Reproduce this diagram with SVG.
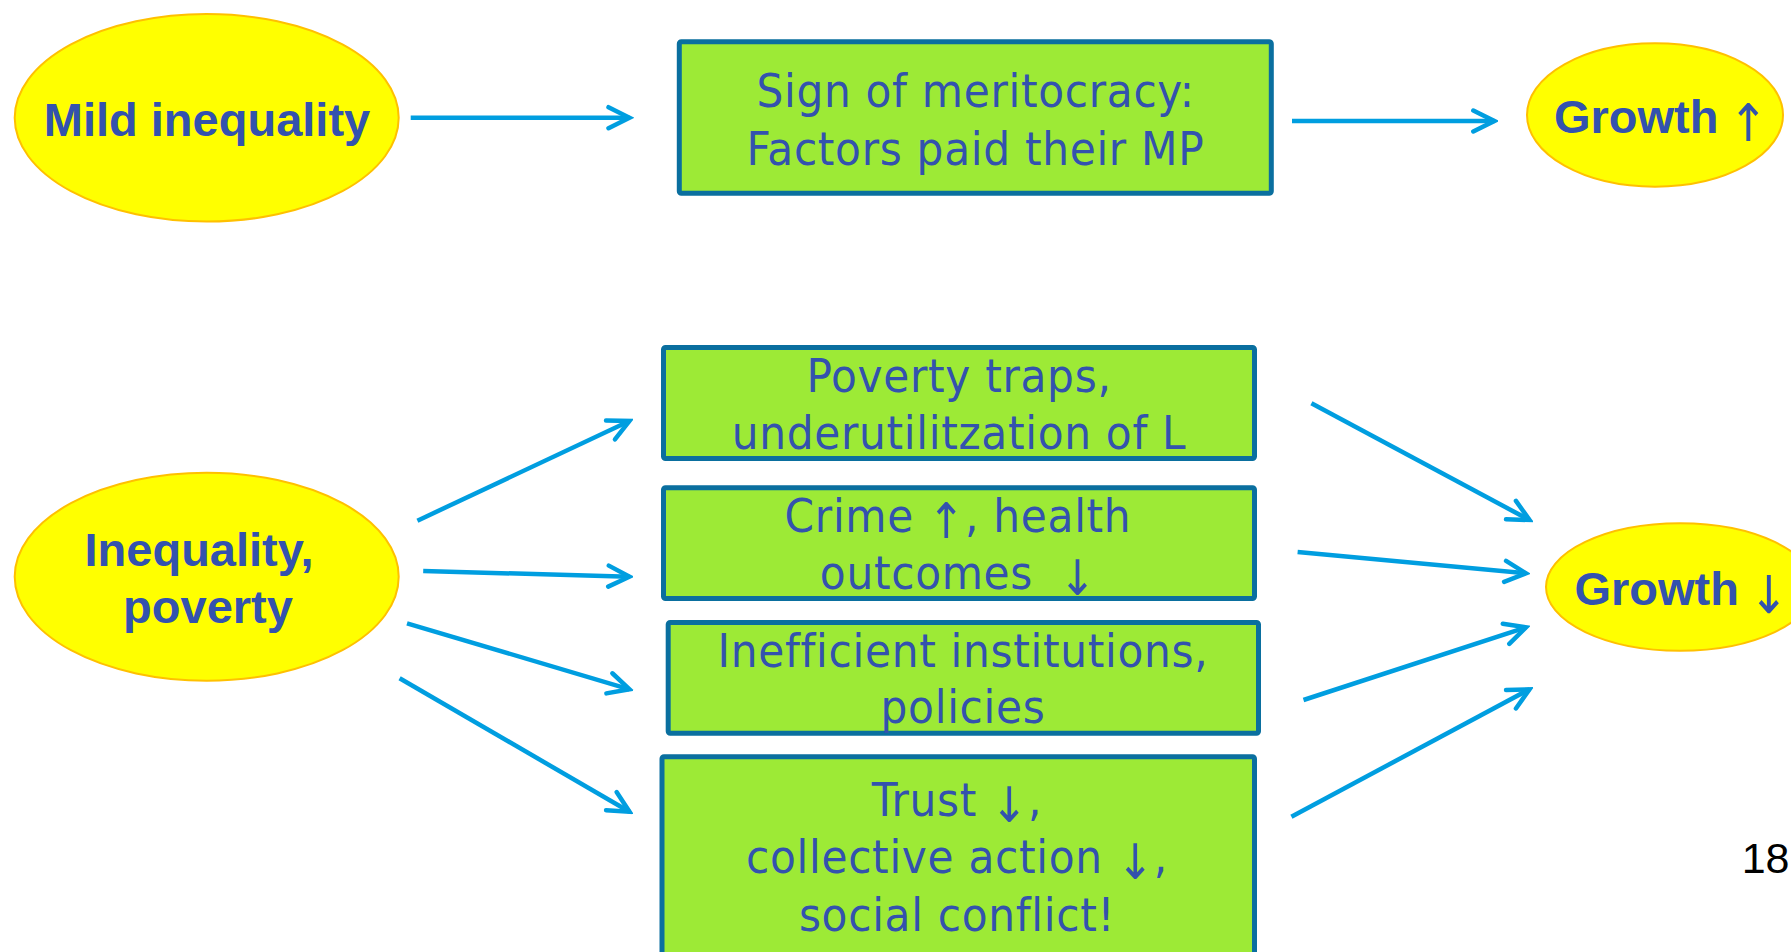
<svg xmlns="http://www.w3.org/2000/svg" width="1791" height="952" viewBox="0 0 1791 952">
  <defs>
    <style>
      .oval { fill: #FFFF00; stroke: #FFC000; stroke-width: 2; }
      .box { fill: #9DEA36; stroke: #0A6F9F; stroke-width: 5; }
      .bold { font-family: "Liberation Sans", Arial, sans-serif; font-weight: bold; font-size: 47px; fill: #3352AE; }
      .body { font-family: "DejaVu Sans Condensed", "DejaVu Sans", sans-serif; font-stretch: condensed; font-size: 47px; letter-spacing: 0.7px; fill: #3352AE; text-anchor: middle; }
      .arr { font-family: "DejaVu Sans Condensed", "DejaVu Sans", sans-serif; font-stretch: condensed; font-weight: normal; font-size: 49px; letter-spacing: 0; }
      .arr-big { font-family: "DejaVu Sans Condensed", "DejaVu Sans", sans-serif; font-stretch: condensed; font-weight: normal; font-size: 52px; }
      .conn line { stroke: #009EE0; stroke-width: 4.5; fill: none; marker-end: url(#head); }
      .pageno { font-family: "Liberation Sans", Arial, sans-serif; font-size: 43px; fill: #000000; }
    </style>
    <marker id="head" markerUnits="userSpaceOnUse" viewBox="-26 -15 30 30" markerWidth="30" markerHeight="30" refX="0" refY="0" orient="auto">
      <path d="M -21 -10.5 L 0 0 L -21 10.5" fill="none" stroke="#009EE0" stroke-width="4.5" stroke-linecap="round" stroke-linejoin="miter"/>
    </marker>
  </defs>

  <rect width="1791" height="952" fill="#FFFFFF"/>

  <!-- upper chain -->
  <g id="mild-inequality">
    <ellipse class="oval" cx="206.7" cy="117.8" rx="192" ry="103.8"/>
    <text class="bold" x="207" y="136" text-anchor="middle">Mild inequality</text>
  </g>

  <g id="meritocracy">
    <rect class="box" x="679.3" y="41.8" width="592" height="151.4" rx="2"/>
    <text class="body" x="975.5" y="107">Sign of meritocracy:</text>
    <text class="body" x="975.5" y="165">Factors paid their MP</text>
  </g>

  <g id="growth-up">
    <ellipse class="oval" cx="1655" cy="115" rx="128" ry="71.7"/>
    <text class="bold" x="1554" y="133.3">Growth <tspan class="arr-big" dx="-3" dy="8">↑</tspan></text>
  </g>

  <!-- lower fan -->
  <g id="inequality-poverty">
    <ellipse class="oval" cx="206.7" cy="576.7" rx="192" ry="104"/>
    <text class="bold" x="199" y="566" text-anchor="middle">Inequality,</text>
    <text class="bold" x="208" y="622.7" text-anchor="middle">poverty</text>
  </g>

  <g id="poverty-traps">
    <rect class="box" x="663.5" y="347.5" width="591" height="111" rx="2"/>
    <text class="body" x="959" y="391.7">Poverty traps,</text>
    <text class="body" x="959" y="449">underutilitzation of L</text>
  </g>

  <g id="crime-health">
    <rect class="box" x="663.5" y="487.8" width="591" height="110.7" rx="2"/>
    <text class="body" x="958" y="531.7">Crime <tspan class="arr" dy="6">↑</tspan><tspan dy="-6">, health</tspan></text>
    <text class="body" x="958" y="589.3">outcomes <tspan class="arr" dx="12" dy="6">↓</tspan></text>
  </g>

  <g id="institutions">
    <rect class="box" x="668.2" y="622.5" width="590.3" height="110.7" rx="2"/>
    <text class="body" x="963" y="666.7">Inefficient institutions,</text>
    <text class="body" x="963" y="723">policies</text>
  </g>

  <g id="trust">
    <rect class="box" x="662" y="756.8" width="592.5" height="230" rx="2"/>
    <text class="body" x="957" y="815.7">Trust <tspan class="arr" dy="6">↓</tspan><tspan dy="-6">,</tspan></text>
    <text class="body" x="957" y="873.3">collective action <tspan class="arr" dy="6">↓</tspan><tspan dy="-6">,</tspan></text>
    <text class="body" x="957" y="930.7">social conflict!</text>
  </g>

  <g id="growth-down">
    <ellipse class="oval" cx="1680" cy="587" rx="134" ry="63.7"/>
    <text class="bold" x="1574.4" y="605">Growth <tspan class="arr-big" dx="-3" dy="8">↓</tspan></text>
  </g>

  <g id="connectors" class="conn">
    <line x1="410.7" y1="117.7" x2="629.5" y2="117.7"/>
    <line x1="1292" y1="121" x2="1494.3" y2="121"/>
    <line x1="417.4" y1="520.7" x2="629.5" y2="421"/>
    <line x1="423.2" y1="571" x2="629.5" y2="576.7"/>
    <line x1="407" y1="623.3" x2="629.5" y2="689.3"/>
    <line x1="399.6" y1="678.3" x2="629.5" y2="811.7"/>
    <line x1="1311.4" y1="403.3" x2="1529.5" y2="520"/>
    <line x1="1297.6" y1="552" x2="1526" y2="573.3"/>
    <line x1="1303.5" y1="700" x2="1526" y2="627.3"/>
    <line x1="1291.4" y1="816.7" x2="1529.5" y2="689.3"/>
  </g>

  <text class="pageno" x="1741.7" y="873.3">18</text>
</svg>
